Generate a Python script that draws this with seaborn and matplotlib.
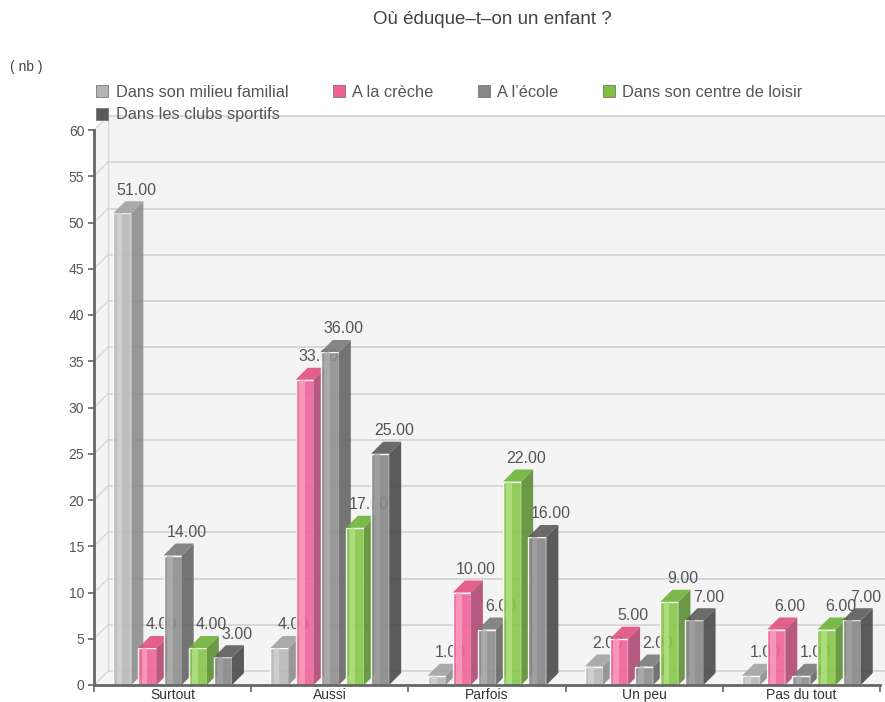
import matplotlib
matplotlib.use("Agg")
import matplotlib.pyplot as plt
import pandas as pd
import seaborn as sns
from matplotlib.patches import Polygon, Rectangle

# data
categories = ["Surtout", "Aussi", "Parfois", "Un peu", "Pas du tout"]
series = ["Dans son milieu familial", "A la crèche", "A l’école",
          "Dans son centre de loisir", "Dans les clubs sportifs"]
milieu_familial = [51, 4, 1, 2, 1]
creche = [4, 33, 10, 5, 6]
ecole = [14, 36, 6, 2, 1]
centre_loisir = [4, 17, 22, 9, 6]
clubs_sportifs = [3, 25, 16, 7, 7]
y_ticks = list(range(0, 61, 5))

# per series: front, highlight, side, top, legend swatch
front_cols = ["#b8b8b8", "#f0649a", "#8e8e8e", "#86c84a", "#888888"]
light_cols = ["#d6d6d6", "#f9a6c3", "#b2b2b2", "#b8e48e", "#a4a4a4"]
side_cols = ["#8d8d8d", "#b04a72", "#666666", "#5d8f33", "#4a4a4a"]
top_cols = ["#a2a2a2", "#e0507f", "#7a7a7a", "#6fb33a", "#5c5c5c"]
swatch_cols = ["#b4b4b4", "#f06090", "#888888", "#80c040", "#5a5a5a"]

values = [milieu_familial, creche, ecole, centre_loisir, clubs_sportifs]
df = pd.DataFrame(
    [(c, s, v[j]) for s, v in zip(series, values) for j, c in enumerate(categories)],
    columns=["categorie", "serie", "nb"],
)

sns.set_style("white")
plt.rcParams["font.family"] = ["Liberation Sans", "DejaVu Sans"]

W, H = 885, 702
fig = plt.figure(figsize=(W / 100, H / 100), dpi=100)
ax = fig.add_axes([94 / W, 17 / H, (880 - 94) / W, 555 / H])

sns.barplot(data=df, x="categorie", y="nb", hue="serie", hue_order=series,
            order=categories, palette=front_cols, saturation=1, width=0.8,
            gap=0.28, legend=False, ax=ax)

ax.set_xlim(-0.5, len(categories) - 0.5)
ax.set_ylim(0, 60)
ax.set_facecolor("white")

# pixel -> data scale for the 3D offsets
px_x = (len(categories)) / (880 - 94)
px_y = 60 / 555
wall_dx, wall_dy = 14 * px_x, 14 * px_y
bar_dx, bar_dy = 12 * px_x, 12 * px_y
x0, x1 = -0.5, len(categories) - 0.5 + 5 * px_x

# back wall, side wall and grid
ax.add_patch(Polygon([(x0, 0), (x0, 60), (x0 + wall_dx, 60 + wall_dy),
                      (x1, 60 + wall_dy), (x1, 0)],
                     closed=True, facecolor="#f4f4f4", edgecolor="none",
                     zorder=0, clip_on=False))
for t in y_ticks:
    ax.plot([x0 + wall_dx, x1], [t + wall_dy] * 2, color="#d8d8d8", lw=1.4,
            zorder=0.5, clip_on=False)
    ax.plot([x0, x0 + wall_dx], [t, t + wall_dy], color="#d8d8d8", lw=1,
            zorder=0.5, clip_on=False)
ax.plot([x0 + wall_dx] * 2, [wall_dy, 60 + wall_dy], color="#d8d8d8", lw=1,
        zorder=0.5, clip_on=False)

# 3D faces, highlight stripes and value labels
bars = []
for i, cont in enumerate(ax.containers):
    for j, bar in enumerate(cont):
        bars.append((j, i, bar))
bars.sort(key=lambda b: b[2].get_x())
for k, (j, i, bar) in enumerate(bars):
    x, w, h = bar.get_x(), bar.get_width(), bar.get_height()
    z = 3 + k * 0.01
    bar.set_zorder(z)
    bar.set_alpha(0.9)
    ax.add_patch(Rectangle((x + 0.18 * w, 0), 0.32 * w, h, facecolor=light_cols[i],
                           edgecolor="none", alpha=0.7, zorder=z + 0.001))
    ax.add_patch(Polygon([(x + w, 0), (x + w + bar_dx, bar_dy),
                          (x + w + bar_dx, h + bar_dy), (x + w, h)],
                         facecolor=side_cols[i], edgecolor="none", alpha=0.9,
                         zorder=z + 0.002))
    ax.add_patch(Polygon([(x, h), (x + bar_dx, h + bar_dy),
                          (x + w + bar_dx, h + bar_dy), (x + w, h)],
                         facecolor=top_cols[i], edgecolor="none", alpha=0.9,
                         zorder=z + 0.002))
    ax.text(x + w + 0.4 * bar_dx, h + bar_dy + 0.4, f"{h:.2f}", ha="center",
            va="bottom", fontsize=11.5, color="#555555", zorder=2)

# axes styling
for side in ["top", "right"]:
    ax.spines[side].set_visible(False)
for side in ["left", "bottom"]:
    ax.spines[side].set_color("#666666")
    ax.spines[side].set_linewidth(2)
    ax.spines[side].set_zorder(10)
ax.set_yticks(y_ticks)
ax.tick_params(axis="y", direction="out", length=4, width=1.2, color="#666666",
               labelsize=10, labelcolor="#555555", pad=3, left=True)
ax.set_xticks(range(len(categories)))
ax.set_xticklabels(categories)
ax.set_xticks([b - 0.5 for b in range(len(categories) + 1)], minor=True)
ax.tick_params(axis="x", which="major", length=0, labelsize=10,
               labelcolor="#333333", pad=2)
ax.tick_params(axis="x", which="minor", direction="out", length=5, width=1.2,
               color="#666666", bottom=True)
ax.set_xlabel("")
ax.set_ylabel("")
ax.grid(False)

# legend (column-major fill, reordered so it reads row by row)
order = [0, 4, 1, 2, 3]
handles = [Rectangle((0, 0), 1, 1, facecolor=swatch_cols[i], edgecolor="#777777",
                     lw=0.6) for i in order]
fig.legend(handles, [series[i] for i in order], loc="upper left",
           bbox_to_anchor=(96 / W, 1 - 85 / H), ncol=4, frameon=False,
           fontsize=11.8, handlelength=0.75, handleheight=0.75,
           handletextpad=0.45, columnspacing=2.7, labelspacing=0.45,
           borderaxespad=0, borderpad=0, labelcolor="#555555")

fig.text(492 / W, 1 - 20 / H, "Où éduque–t–on un enfant ?", ha="center",
         va="center", fontsize=13.5, color="#444444")
fig.text(10 / W, 1 - 67 / H, "( nb )", ha="left", va="center", fontsize=10,
         color="#444444")

fig.savefig("out.png", dpi=100)
